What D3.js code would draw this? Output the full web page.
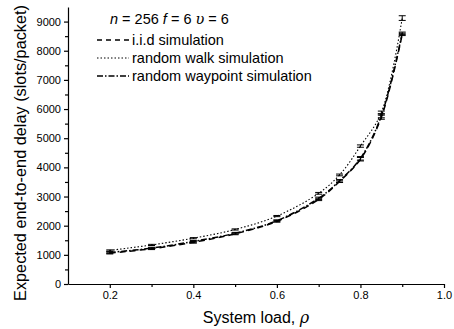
<!DOCTYPE html>
<html>
<head>
<meta charset="utf-8">
<script src="https://cdn.jsdelivr.net/npm/d3@7"></script>
<style>
body { margin: 0; background: #fff; }
svg { font-family: "Liberation Sans", Arial, sans-serif; }
.axis path, .axis line { stroke: #000; stroke-width: 1.2; }
.axis text { font-size: 11px; fill: #000; }
</style>
</head>
<body>
<div id="chart"></div>
<script>
// system load values
var loads = [0.2, 0.3, 0.4, 0.5, 0.6, 0.7, 0.75, 0.8, 0.85, 0.9];
// expected delay per mobility model
var iidDelay      = [1060, 1210, 1430, 1720, 2150, 2900, 3520, 4280, 5720, 8560];
var walkDelay     = [1150, 1340, 1570, 1870, 2330, 3110, 3740, 4730, 5880, 9120];
var waypointDelay = [1080, 1230, 1460, 1740, 2170, 2940, 3540, 4310, 5770, 8600];
var iidErr      = [30, 30, 30, 30, 30, 40, 40, 60, 70, 40];
var walkErr     = [20, 20, 20, 20, 20, 30, 30, 40, 50, 80];
var waypointErr = [30, 30, 30, 30, 30, 40, 40, 60, 70, 40];
var xTicks = [0.2, 0.4, 0.6, 0.8, 1.0];
var yTicks = [0, 1000, 2000, 3000, 4000, 5000, 6000, 7000, 8000, 9000];
var seriesNames = ["i.i.d simulation", "random walk simulation", "random waypoint simulation"];

var width = 454, height = 329;
var margin = {top: 7, right: 10, bottom: 45, left: 68};

var svg = d3.select("#chart").append("svg")
    .attr("width", width)
    .attr("height", height);

var x = d3.scaleLinear().domain([0.1, 1.0]).range([margin.left, width - margin.right]);
var y = d3.scaleLinear().domain([0, 9500]).range([height - margin.bottom, margin.top]);

// axes, major + minor ticks
svg.append("g")
    .attr("class", "axis")
    .attr("transform", "translate(0," + y(0) + ")")
    .call(d3.axisBottom(x).tickValues(xTicks).tickSize(4).tickFormat(d3.format(".1f")).tickSizeOuter(0));
svg.append("g")
    .attr("class", "axis")
    .attr("transform", "translate(0," + y(0) + ")")
    .call(d3.axisBottom(x).tickValues([0.3, 0.5, 0.7, 0.9]).tickSize(3).tickFormat("").tickSizeOuter(0))
    .select(".domain").remove();

svg.append("g")
    .attr("class", "axis")
    .attr("transform", "translate(" + x(0.1) + ",0)")
    .call(d3.axisLeft(y).tickValues(yTicks).tickSize(4).tickFormat(d3.format("d")).tickSizeOuter(0));
svg.append("g")
    .attr("class", "axis")
    .attr("transform", "translate(" + x(0.1) + ",0)")
    .call(d3.axisLeft(y).tickValues(d3.range(500, 9500, 1000)).tickSize(3).tickFormat("").tickSizeOuter(0))
    .select(".domain").remove();

svg.selectAll(".axis text").attr("font-size", 11);

// axis titles
svg.append("text")
    .attr("x", 256).attr("y", 323)
    .attr("text-anchor", "middle")
    .attr("font-size", 16)
    .html('System load, <tspan font-family="DejaVu Serif" font-style="italic">ρ</tspan>');

svg.append("text")
    .attr("transform", "translate(26,153) rotate(-90)")
    .attr("text-anchor", "middle")
    .attr("font-size", 16.3)
    .text("Expected end-to-end delay (slots/packet)");

var styles = ["6,4", "1.5,2", "6,2,1.5,2"];
var series = [
    {vals: iidDelay, err: iidErr},
    {vals: walkDelay, err: walkErr},
    {vals: waypointDelay, err: waypointErr}
];

var line = d3.line()
    .x(function(d) { return x(d[0]); })
    .y(function(d) { return y(d[1]); })
    .curve(d3.curveCatmullRom);

series.forEach(function(s, k) {
    var pts = loads.map(function(l, i) { return [l, s.vals[i], s.err[i]]; });
    svg.append("path")
        .datum(pts)
        .attr("d", line)
        .attr("fill", "none")
        .attr("stroke", "#000")
        .attr("stroke-width", k == 1 ? 1.1 : 1.5)
        .attr("stroke-dasharray", styles[k]);

    var eb = svg.selectAll(".eb" + k).data(pts).enter().append("g").attr("class", "eb" + k);
    eb.append("line")
        .attr("x1", function(d) { return x(d[0]); })
        .attr("x2", function(d) { return x(d[0]); })
        .attr("y1", function(d) { return y(d[1] - d[2]); })
        .attr("y2", function(d) { return y(d[1] + d[2]); })
        .attr("stroke", "#000").attr("stroke-width", 1);
    [-1, 1].forEach(function(sgn) {
        eb.append("line")
            .attr("x1", function(d) { return x(d[0]) - 3.5; })
            .attr("x2", function(d) { return x(d[0]) + 3.5; })
            .attr("y1", function(d) { return y(d[1] + sgn * d[2]); })
            .attr("y2", function(d) { return y(d[1] + sgn * d[2]); })
            .attr("stroke", "#000").attr("stroke-width", 1);
    });
});

// legend
var lg = svg.append("g");
lg.append("text")
    .attr("x", 110).attr("y", 24)
    .attr("font-size", 14.5)
    .html('<tspan font-style="italic">n</tspan> = 256 <tspan font-style="italic">f</tspan>  = 6 <tspan font-family="DejaVu Serif" font-style="italic">υ</tspan> = 6');

seriesNames.forEach(function(name, k) {
    var ly = 40 + k * 18;
    lg.append("line")
        .attr("x1", 97).attr("x2", 129)
        .attr("y1", ly).attr("y2", ly)
        .attr("stroke", "#000")
        .attr("stroke-width", k == 1 ? 1 : 1.3)
        .attr("stroke-dasharray", k == 0 ? "5,4" : styles[k]);
    lg.append("text")
        .attr("x", 132).attr("y", ly + 5)
        .attr("font-size", 14.5)
        .text(name);
});
</script>
</body>
</html>
